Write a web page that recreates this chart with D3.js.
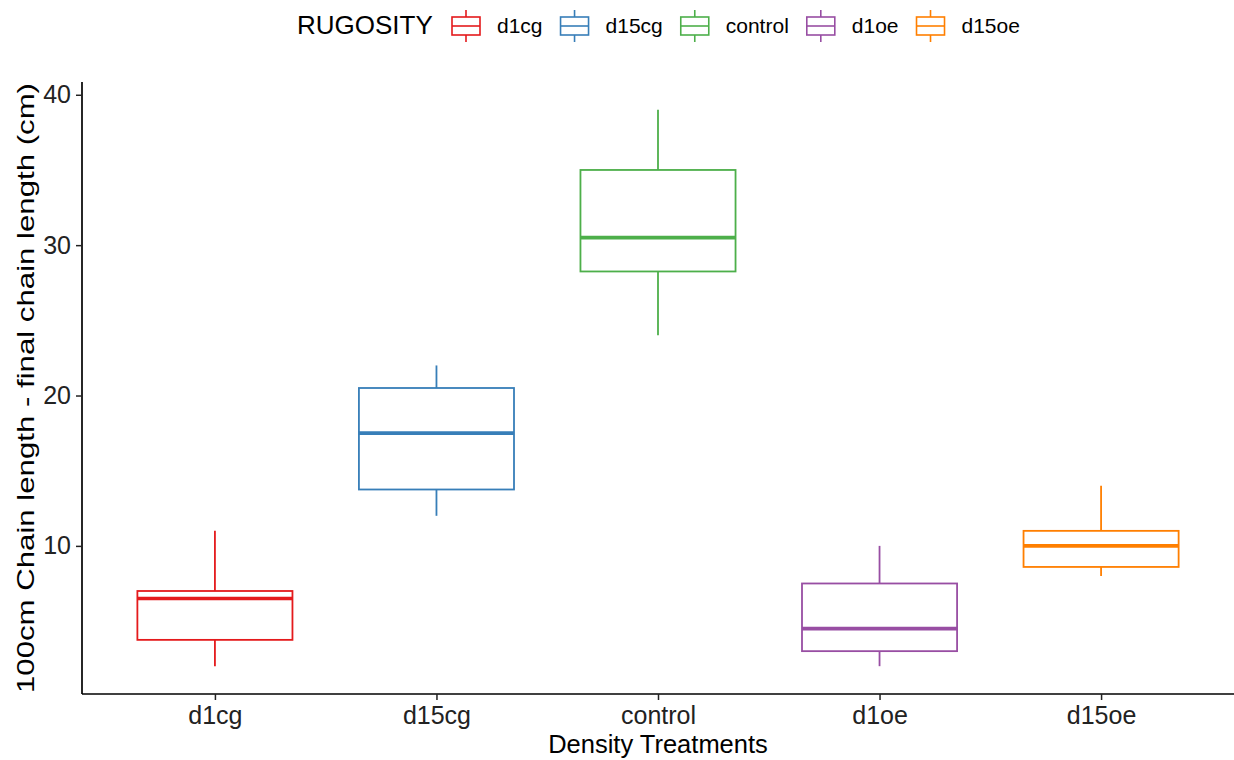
<!DOCTYPE html>
<html>
<head>
<meta charset="utf-8">
<script src="https://cdn.jsdelivr.net/npm/d3@7"></script>
<style>
  body { margin: 0; background: #fff; }
  svg { display: block; font-family: "Liberation Sans", Arial, Helvetica, sans-serif; }
</style>
</head>
<body>
<svg id="chart" width="1234" height="760"></svg>
<script>
// data
var treatments = ["d1cg", "d15cg", "control", "d1oe", "d15oe"];
var colors = ["#E41A1C", "#377EB8", "#4DAF4A", "#984EA3", "#FF7F00"];
var whiskerLow = [2, 12, 24, 2, 8];
var q1 = [3.75, 13.75, 28.25, 3, 8.6];
var median = [6.5, 17.5, 30.5, 4.5, 10];
var q3 = [7, 20.5, 35, 7.5, 11];
var whiskerHigh = [11, 22, 39, 10, 14];
var yTicks = [10, 20, 30, 40];

var W = 1234, H = 760;
var margin = {left: 82, right: 0, top: 82, bottom: 66};
var svg = d3.select("#chart");

// ggplot style expansion of 5% on the continuous axis
var lo = d3.min(whiskerLow), hi = d3.max(whiskerHigh);
var pad = (hi - lo) * 0.05;
var y = d3.scaleLinear()
    .domain([lo - pad, hi + pad])
    .range([H - margin.bottom, margin.top]);

var x = d3.scalePoint()
    .domain(treatments)
    .range([margin.left, W - margin.right])
    .padding(0.6);

var boxW = x.step() * 0.7;

var boxes = treatments.map(function (t, i) {
    return {name: t, col: colors[i], lo: whiskerLow[i], q1: q1[i],
        med: median[i], q3: q3[i], hi: whiskerHigh[i]};
});

var g = svg.append("g");

var box = g.selectAll("g.box")
    .data(boxes)
    .enter()
    .append("g")
    .attr("class", "box");

// whiskers
box.append("line")
    .attr("x1", function (d) { return x(d.name); })
    .attr("x2", function (d) { return x(d.name); })
    .attr("y1", function (d) { return y(d.hi); })
    .attr("y2", function (d) { return y(d.q3); })
    .attr("stroke", function (d) { return d.col; })
    .attr("stroke-width", 1.8);
box.append("line")
    .attr("x1", function (d) { return x(d.name); })
    .attr("x2", function (d) { return x(d.name); })
    .attr("y1", function (d) { return y(d.q1); })
    .attr("y2", function (d) { return y(d.lo); })
    .attr("stroke", function (d) { return d.col; })
    .attr("stroke-width", 1.8);

box.append("rect")
    .attr("x", function (d) { return x(d.name) - boxW / 2; })
    .attr("y", function (d) { return y(d.q3); })
    .attr("width", boxW)
    .attr("height", function (d) { return y(d.q1) - y(d.q3); })
    .attr("fill", "white")
    .attr("stroke", function (d) { return d.col; })
    .attr("stroke-width", 1.8);

box.append("line")
    .attr("x1", function (d) { return x(d.name) - boxW / 2; })
    .attr("x2", function (d) { return x(d.name) + boxW / 2; })
    .attr("y1", function (d) { return y(d.med); })
    .attr("y2", function (d) { return y(d.med); })
    .attr("stroke", function (d) { return d.col; })
    .attr("stroke-width", 3.6);

// axes
var yAxis = svg.append("g")
    .attr("transform", "translate(" + margin.left + ",0)")
    .call(d3.axisLeft(y).tickValues(yTicks).tickSize(6).tickPadding(5));
var xAxis = svg.append("g")
    .attr("transform", "translate(0," + (H - margin.bottom) + ")")
    .call(d3.axisBottom(x).tickSize(6).tickPadding(6));

[yAxis, xAxis].forEach(function (a) {
    a.select(".domain").attr("stroke", "#000").attr("stroke-width", 1.7);
    a.selectAll(".tick line").attr("stroke", "#222").attr("stroke-width", 1.5);
    a.selectAll(".tick text").attr("fill", "#222").attr("font-size", 25)
        .attr("font-family", "Liberation Sans, Arial, sans-serif");
});
// ggplot axis lines stop at the panel edges, not outer ticks
yAxis.select(".domain").attr("d", "M0," + y.range()[0] + "V" + y.range()[1]);
xAxis.select(".domain").attr("d", "M" + margin.left + ",0H" + W);

svg.append("text")
    .attr("x", (margin.left + W) / 2)
    .attr("y", 753)
    .attr("text-anchor", "middle")
    .attr("font-size", 25.5)
    .attr("fill", "#000")
    .text("Density Treatments");

// the y title in the picture is drawn stretched along its length
svg.append("text")
    .attr("transform", "translate(34," + ((margin.top + H - margin.bottom) / 2) + ") rotate(-90)")
    .attr("x", -305)
    .attr("font-size", 24)
    .attr("fill", "#000")
    .attr("textLength", 610)
    .attr("lengthAdjust", "spacingAndGlyphs")
    .text("100cm Chain length - final chain length (cm)");

// legend
var legend = svg.append("g");
legend.append("text")
    .attr("x", 297)
    .attr("y", 34)
    .attr("font-size", 26)
    .attr("fill", "#000")
    .text("RUGOSITY");

var lx = 451, cy = 26;
boxes.forEach(function (d) {
    var k = legend.append("g").attr("transform", "translate(" + lx + "," + cy + ")");
    k.append("line").attr("x1", 15).attr("x2", 15).attr("y1", -16).attr("y2", 16)
        .attr("stroke", d.col).attr("stroke-width", 1.6);
    k.append("rect").attr("x", 1).attr("y", -9).attr("width", 28).attr("height", 18)
        .attr("fill", "white").attr("stroke", d.col).attr("stroke-width", 1.6);
    k.append("line").attr("x1", 1).attr("x2", 29).attr("y1", 0).attr("y2", 0)
        .attr("stroke", d.col).attr("stroke-width", 1.6);
    var t = legend.append("text")
        .attr("x", lx + 46)
        .attr("y", cy + 7)
        .attr("font-size", 21)
        .attr("fill", "#000")
        .text(d.name);
    lx = lx + 46 + t.node().getComputedTextLength() + 17;
});
</script>
</body>
</html>
